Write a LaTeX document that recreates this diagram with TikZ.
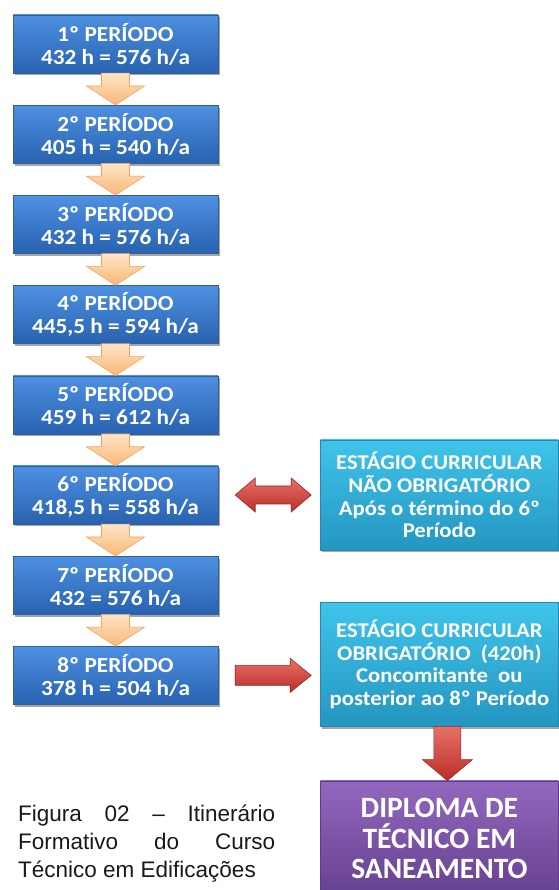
\documentclass[tikz,border=0pt]{standalone}
\usepackage{fontspec}
\setmainfont{Liberation Sans}
\newfontfamily\boxfont{Carlito}[FakeStretch=1.08]
\newfontfamily\bigboxfont{Carlito}
\usepackage{tikz}
\usetikzlibrary{shapes, arrows.meta, positioning, calc, shadows}

\definecolor{perTop}{RGB}{78,144,226}
\definecolor{perBot}{RGB}{40,98,176}
\definecolor{perEdge}{RGB}{50,94,156}
\definecolor{stgTop}{RGB}{64,196,234}
\definecolor{stgBot}{RGB}{36,150,192}
\definecolor{stgEdge}{RGB}{34,138,176}
\definecolor{dipTop}{RGB}{146,104,190}
\definecolor{dipBot}{RGB}{102,64,144}
\definecolor{dipEdge}{RGB}{94,60,134}
\definecolor{oraTop}{RGB}{253,228,200}
\definecolor{oraBot}{RGB}{249,184,116}
\definecolor{oraEdge}{RGB}{244,164,92}
\definecolor{redTop}{RGB}{232,112,102}
\definecolor{redBot}{RGB}{186,46,42}
\definecolor{redEdge}{RGB}{160,40,38}

\tikzset{
  down block/.style n args={3}{to path={let \p1=(\tikztostart), \p2=(\tikztotarget) in
    (\x1-#1,\y1) -- (\x1-#1,\y2+#3) -- (\x1-#2,\y2+#3) -- (\x1,\y2)
    -- (\x1+#2,\y2+#3) -- (\x1+#1,\y2+#3) -- (\x1+#1,\y1) -- cycle}},
  right block/.style n args={5}{to path={let \p1=(\tikztostart), \p2=(\tikztotarget) in
    (\x1+#4,\y1-#1) -- (\x2-#5-#3,\y1-#1) -- (\x2-#5-#3,\y1-#2) -- (\x2-#5,\y1)
    -- (\x2-#5-#3,\y1+#2) -- (\x2-#5-#3,\y1+#1) -- (\x1+#4,\y1+#1) -- cycle}},
  double block/.style n args={5}{to path={let \p1=(\tikztostart), \p2=(\tikztotarget) in
    (\x1+#4,\y1) -- (\x1+#4+#3,\y1-#2) -- (\x1+#4+#3,\y1-#1) -- (\x2-#5-#3,\y1-#1)
    -- (\x2-#5-#3,\y1-#2) -- (\x2-#5,\y1) -- (\x2-#5-#3,\y1+#2) -- (\x2-#5-#3,\y1+#1)
    -- (\x1+#4+#3,\y1+#1) -- (\x1+#4+#3,\y1+#2) -- cycle}},
}
\tikzstyle{boxshadow} = [drop shadow={shadow xshift=2pt, shadow yshift=-2.5pt, opacity=0.35, fill=black}]
\tikzstyle{period} = [draw=perEdge, top color=perTop, bottom color=perBot, rectangle, boxshadow,
  minimum width=205pt, minimum height=58pt, inner sep=0pt, align=center, text=white,
  font=\boxfont\bfseries\fontsize{21.5}{23}\selectfont]
\tikzstyle{stage} = [draw=stgEdge, top color=stgTop, bottom color=stgBot, rectangle, boxshadow,
  minimum width=238pt, inner sep=0pt, align=center, text=white,
  font=\boxfont\bfseries\fontsize{21}{22.7}\selectfont]
\tikzstyle{diploma} = [draw=dipEdge, top color=dipTop, bottom color=dipBot, rectangle, boxshadow,
  minimum width=238pt, minimum height=116pt, inner sep=0pt, align=center, text=white,
  font=\bigboxfont\bfseries\fontsize{29.5}{30.5}\selectfont]
\tikzstyle{flow} = [draw=oraEdge, line width=0.6pt, top color=oraTop, bottom color=oraBot]
\tikzstyle{redflow} = [draw=redEdge, line width=0.6pt, top color=redTop, bottom color=redBot]
\tikzstyle{caption} = [inner sep=0pt, text width=257pt, align=justify, text=black!90,
  font=\fontsize{22.5}{28}\selectfont]

\begin{document}
\begin{tikzpicture}[x=1pt, y=1pt, node distance=90.2pt]
    \useasboundingbox (0,0) rectangle (558,890);
    % periods
    \node[period] at (115.5,846) (p1) {1º PERÍODO\\432 h = 576 h/a};
    \node[period, below of=p1] (p2) {2º PERÍODO\\405 h = 540 h/a};
    \node[period, below of=p2] (p3) {3º PERÍODO\\432 h = 576 h/a};
    \node[period, below of=p3] (p4) {4º PERÍODO\\445,5 h = 594 h/a};
    \node[period, below of=p4] (p5) {5º PERÍODO\\459 h = 612 h/a};
    \node[period, below of=p5] (p6) {6º PERÍODO\\418,5 h = 558 h/a};
    \node[period, below of=p6] (p7) {7º PERÍODO\\432 = 576 h/a};
    \node[period, below of=p7] (p8) {8º PERÍODO\\378 h = 504 h/a};
    % internships and diploma
    \node[stage, minimum height=110pt, right=102pt of p6] (e1)
        {ESTÁGIO CURRICULAR\\NÃO OBRIGATÓRIO\\Após o término do 6º\\Período};
    \node[stage, minimum height=124pt, right=102pt of p8, yshift=11pt] (e2)
        {ESTÁGIO CURRICULAR\\OBRIGATÓRIO\ \ (420h)\\Concomitante\ \ ou\\posterior ao 8º Período};
    \node[diploma, below=54pt of e2] (dip) {DIPLOMA DE\\TÉCNICO EM\\SANEAMENTO};
    \node[caption, anchor=north west] at (18,85.5) (cap)
        {Figura 02 – Itinerário\linebreak Formativo do Curso\linebreak Técnico em Edificações};
    % arrows
    \path[flow, down block={14pt}{29pt}{19pt}] (p1.south) to (p2.north);
    \path[flow, down block={14pt}{29pt}{19pt}] (p2.south) to (p3.north);
    \path[flow, down block={14pt}{29pt}{19pt}] (p3.south) to (p4.north);
    \path[flow, down block={14pt}{29pt}{19pt}] (p4.south) to (p5.north);
    \path[flow, down block={14pt}{29pt}{19pt}] (p5.south) to (p6.north);
    \path[flow, down block={14pt}{29pt}{19pt}] (p6.south) to (p7.north);
    \path[flow, down block={14pt}{29pt}{19pt}] (p7.south) to (p8.north);
    \path[redflow, double block={9pt}{17pt}{20pt}{17pt}{9pt}] (p6.east) to (e1.west);
    \path[redflow, right block={10pt}{17pt}{21pt}{17pt}{9pt}] (p8.east) to (e2.west);
    \path[redflow, down block={13.5pt}{25pt}{21pt}] ([xshift=8pt]e2.south) to ([xshift=8pt]dip.north);
\end{tikzpicture}
\end{document}
